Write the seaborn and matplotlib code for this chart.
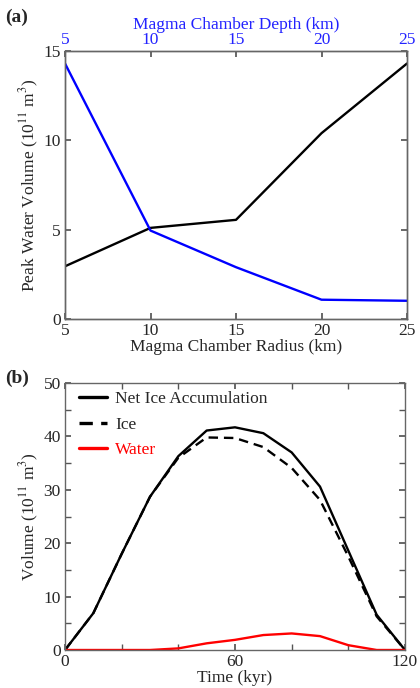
import numpy as np
import pandas as pd
import matplotlib
matplotlib.use("Agg")
import matplotlib.pyplot as plt
from matplotlib.ticker import MultipleLocator
import seaborn as sns

# ---- data ----
radius_km = [5, 10, 15, 20, 25]
peak_vs_radius = [2.95, 5.1, 5.55, 10.4, 14.3]
depth_km = [5, 10, 15, 20, 25]
peak_vs_depth = [14.3, 4.95, 2.9, 1.08, 1.02]

time_kyr = [0, 10, 20, 30, 40, 50, 60, 70, 80, 90, 100, 110, 120]
net_ice = [0, 6.9, 18.0, 28.7, 36.3, 41.1, 41.7, 40.6, 37.0, 30.6, 18.6, 6.6, 0]
ice = [0, 6.9, 18.0, 28.7, 36.0, 39.8, 39.7, 38.0, 34.1, 28.1, 17.5, 6.3, 0]
water = [0, 0, 0, 0, 0.3, 1.25, 1.9, 2.8, 3.1, 2.6, 0.9, 0, 0]

sns.set_theme(style="ticks")
plt.rcParams['font.family'] = ['Liberation Serif', 'DejaVu Serif']
plt.rcParams['mathtext.fontset'] = 'stix'
FS = 12.5

fig = plt.figure(figsize=(4.2, 6.88), dpi=100)
ax1 = fig.add_axes([65/420, 1-319/688, 342/420, 268/688])
ax2 = fig.add_axes([65/420, 1-650/688, 340/420, 267/688])

# ---- panel (a) ----
dfa = pd.DataFrame({"radius": radius_km, "peak": peak_vs_radius})
sns.lineplot(data=dfa, x="radius", y="peak", ax=ax1, color="black", lw=1.7)
ax1.set_xlim(5, 25)
ax1.set_ylim(0, 15)
ax1.set_xticks([5, 10, 15, 20, 25])
ax1.set_yticks([0, 5, 10, 15])
ax1.set_xlabel("Magma Chamber Radius (km)", fontsize=FS, labelpad=0)
ax1.set_ylabel("Peak Water Volume (10$^{11}$ m$^{3}$)", fontsize=FS, labelpad=2)
ax1.tick_params(direction="in", top=False, right=True, labelsize=FS, length=4, pad=3, color="#555555")

axt = ax1.twiny()
dfd = pd.DataFrame({"depth": depth_km, "peak": peak_vs_depth})
sns.lineplot(data=dfd, x="depth", y="peak", ax=axt, color="#0000ff", lw=1.7)
axt.set_xlim(5, 25)
axt.set_xticks([5, 10, 15, 20, 25])
axt.set_xlabel("Magma Chamber Depth (km)", fontsize=FS, color="#2323ff", labelpad=2)
axt.tick_params(axis="x", direction="in", labelsize=FS, labelcolor="#2323ff", length=4, pad=2, color="#555555")
axt.set_ylabel("")
for a in (ax1, axt):
    for s in a.spines.values():
        s.set_color("#666666")
        s.set_linewidth(1.0)
fig.text(0.012, 1-17/688, "(a)", fontsize=14, fontweight="bold", va="center")

# ---- panel (b) ----
dfb = pd.DataFrame({"t": time_kyr * 3,
                    "v": net_ice + ice + water,
                    "series": ["Net Ice Accumulation"] * 13 + ["Ice"] * 13 + ["Water"] * 13})
palette = {"Net Ice Accumulation": "black", "Ice": "black", "Water": "#ff0000"}
dashes = {"Net Ice Accumulation": "", "Ice": (4, 2.5), "Water": ""}
sns.lineplot(data=dfb, x="t", y="v", hue="series", style="series", palette=palette,
             dashes=dashes, ax=ax2, lw=1.7)
ax2.set_xlim(0, 120)
ax2.set_ylim(0, 50)
ax2.set_xticks([0, 60, 120])
ax2.xaxis.set_minor_locator(MultipleLocator(20))
ax2.set_yticks([0, 10, 20, 30, 40, 50])
ax2.yaxis.set_minor_locator(MultipleLocator(5))
ax2.set_xlabel("Time (kyr)", fontsize=FS, labelpad=0)
ax2.set_ylabel("Volume (10$^{11}$ m$^{3}$)", fontsize=FS, labelpad=2)
ax2.tick_params(which="both", direction="in", top=True, right=True, labelsize=FS, color="#555555")
ax2.tick_params(which="major", length=4, pad=3)
ax2.tick_params(which="minor", length=4)
for s in ax2.spines.values():
    s.set_color("#666666")
    s.set_linewidth(1.0)
leg = ax2.legend(loc="upper left", bbox_to_anchor=(6/340, 1.0), frameon=False, fontsize=FS,
                 handlelength=1.6, borderaxespad=0.05, labelspacing=0.55, handletextpad=0.5)
for line in leg.get_lines():
    line.set_linewidth(2.4)
for txt in leg.get_texts():
    if txt.get_text() == "Water":
        txt.set_color("#ff0000")
fig.text(0.012, 1-378/688, "(b)", fontsize=14, fontweight="bold", va="center")

fig.savefig("out.png", dpi=100)
